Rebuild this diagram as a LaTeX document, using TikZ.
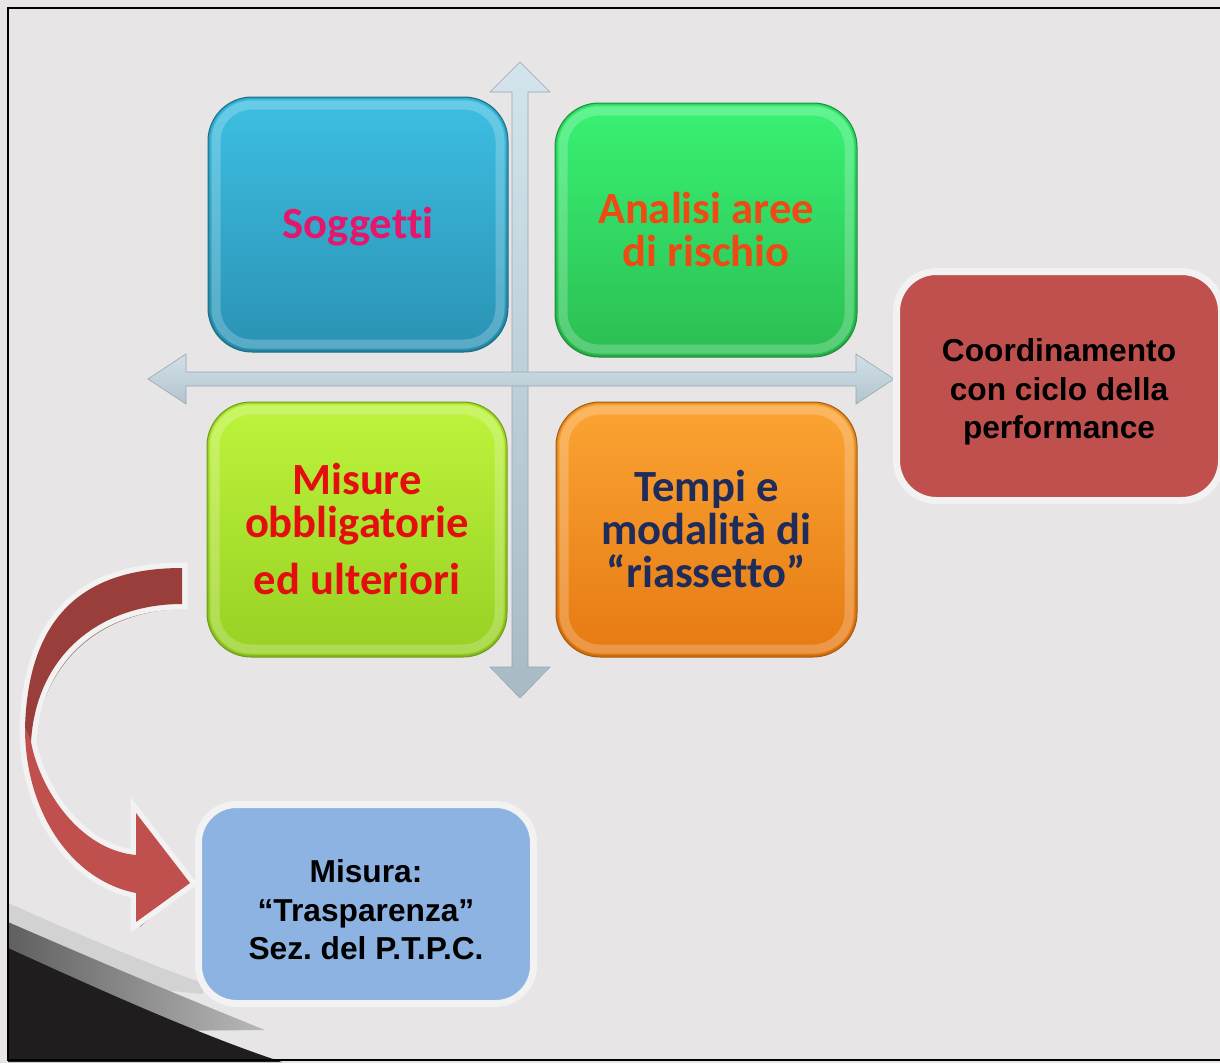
\documentclass[tikz,border=0pt]{standalone}
\usepackage{fontspec}
\newfontfamily\tilefont{Carlito}[Ligatures={NoCommon,NoContextual,NoRare}]
\newfontfamily\labfont{Liberation Sans}
\usetikzlibrary{calc}
\frenchspacing

\definecolor{bg}{HTML}{E7E5E6}
\definecolor{rim}{HTML}{F2F2F2}
\definecolor{cyanA}{HTML}{3DBFE2}
\definecolor{cyanB}{HTML}{2A92B4}
\definecolor{greenA}{HTML}{38F274}
\definecolor{greenB}{HTML}{2CBE52}
\definecolor{limeA}{HTML}{BDF43C}
\definecolor{limeB}{HTML}{98D024}
\definecolor{orangeA}{HTML}{FBA434}
\definecolor{orangeB}{HTML}{E67A12}
\definecolor{brick}{HTML}{C0504D}
\definecolor{brickdark}{HTML}{9A3E3C}
\definecolor{sky}{HTML}{8DB3E2}
\definecolor{axisA}{HTML}{D3E4ED}
\definecolor{axisB}{HTML}{A9BAC5}
\definecolor{axisH}{HTML}{C6D9E3}
\definecolor{txtpink}{HTML}{E3186C}
\definecolor{txtorange}{HTML}{EE4A14}
\definecolor{txtred}{HTML}{E50E0E}
\definecolor{txtnavy}{HTML}{1F2B5B}
\definecolor{swooshdark}{HTML}{1F1D1D}

\begin{document}
\begin{tikzpicture}[x=1pt,y=-1pt,
  tile/.style 2 args={top color=#1, bottom color=#2, draw=#2!75!black,
    line width=1pt, rounded corners=44pt, minimum width=300pt,
    minimum height=255pt, inner sep=0pt, align=center,
    font=\tilefont\bfseries\fontsize{44.6}{43}\selectfont,
    path picture={
      \draw[white, opacity=.22, line width=9pt, rounded corners=36pt]
        ([shift={(8pt,-8pt)}]path picture bounding box.north west) rectangle
        ([shift={(-8pt,8pt)}]path picture bounding box.south east);
      \draw[black, opacity=.12, line width=4pt, rounded corners=44pt]
        (path picture bounding box.north west) rectangle
        (path picture bounding box.south east);
    }},
  note/.style={draw=rim, line width=7pt, rounded corners=40pt, inner sep=0pt,
    align=center, text=black,
    font=\labfont\bfseries\fontsize{31.7}{38.5}\selectfont},
  axis/.style={draw=axisB!90!black, line width=.6pt, line join=miter}
]
\useasboundingbox (0,0) rectangle (1220,1063);
\fill[bg] (0,0) rectangle (1220,1063);

% dark swoosh in the lower left corner
\fill[gray!35] (8,903) .. controls (80,935) and (150,965) .. (203,983)
  -- (203,994) -- (8,975) -- cycle;
\shade[left color=gray!75!black, right color=gray!55]
  (8,922) .. controls (100,962) and (190,1000) .. (265,1030)
  -- (150,1031) -- (8,995) -- cycle;
\fill[swooshdark] (8,948) .. controls (100,990) and (200,1035) .. (282,1062)
  -- (8,1062) -- cycle;

% frame
\draw[black, line width=2pt] (1230,7.5) -- (8,7.5) -- (8,1060) -- (1230,1060);

% crossed double arrows
\coordinate (cross) at (520,379);
\shade[axis, top color=axisA, bottom color=axisB]
  (520,62) -- (550,92) -- (528,92) -- (528,667) -- (550,667) -- (520,698)
  -- (490,667) -- (512,667) -- (512,92) -- (490,92) -- cycle;
\shade[axis, top color=axisH!80!white, bottom color=axisH!90!black]
  (148,379) -- (186,354) -- (186,372) -- (856,372) -- (856,354) -- (894,379)
  -- (856,404) -- (856,386) -- (186,386) -- (186,404) -- cycle;

% four quadrant tiles
\node[tile={cyanA}{cyanB}, text=txtpink] (sogg) at (358,224.5)
  {\rule{0pt}{35pt}Soggetti};
\node[tile={greenA}{greenB}, text=txtorange, minimum width=302pt, minimum height=254pt]
  (aree) at (706,230) {Analisi aree\\di rischio};
\node[tile={limeA}{limeB}, text=txtred] (misure) at (357,529.5)
  {Misure\\obbligatorie\\[14pt]ed ulteriori};
\node[tile={orangeA}{orangeB}, text=txtnavy, minimum width=301pt]
  (tempi) at (706.5,529.5) {Tempi e\\modalità di\\“riassetto”};

% side and bottom notes
\node[note, fill=brick, minimum width=325pt, minimum height=229pt]
  (perf) at (1059,386) {\rule{0pt}{35pt}Coordinamento\\con ciclo della\\performance};
\node[note, fill=sky, minimum width=335pt, minimum height=199pt, rounded corners=38pt]
  (trasp) at (366,904) {\rule{0pt}{35pt}Misura:\\“Trasparenza”\\Sez. del P.T.P.C.};

% curved block arrow from the measures tile to the transparency note
\coordinate (ctop) at (182,568);
\coordinate (ctip) at (190,883);
\def\curvedarrow{(ctop) .. controls (80,568) and (28,620) .. (25,728)
  .. controls (25,810) and (70,880) .. (136,893)
  -- (136,922) -- (ctip) -- (136,813) -- (136,855)
  .. controls (80,850) and (40,790) .. (31,742)
  .. controls (36,655) and (100,604) .. (182,604) -- cycle}
\begin{scope}[shift={(4,5)}]
  \fill[brickdark!60!gray, opacity=.7] \curvedarrow;
\end{scope}
\draw[rim, line width=11pt, line join=miter] \curvedarrow;
\fill[brickdark] (ctop) .. controls (80,568) and (28,620) .. (25,728)
  -- (31,742) .. controls (36,655) and (100,604) .. (182,604) -- cycle;
\fill[brick] (25,728) .. controls (25,810) and (70,880) .. (136,893)
  -- (136,922) -- (ctip) -- (136,813) -- (136,855)
  .. controls (80,850) and (40,790) .. (31,742) -- cycle;
\end{tikzpicture}
\end{document}
